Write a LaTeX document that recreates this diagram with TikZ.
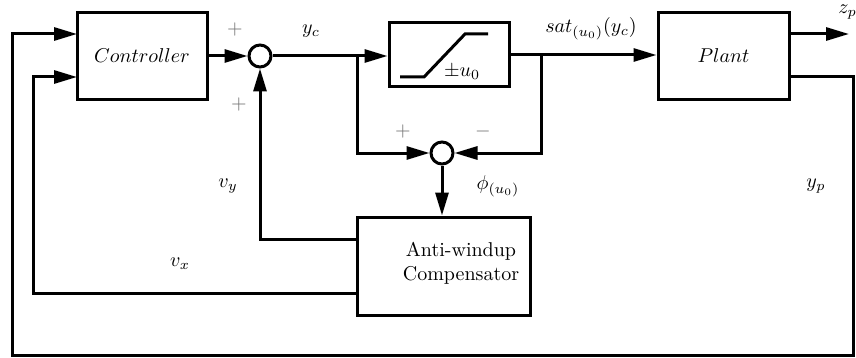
\documentclass[tikz,border=0pt]{standalone}
\usetikzlibrary{arrows.meta}
\begin{document}
\begin{tikzpicture}[x=0.5pt,y=-0.5pt,
  blk/.style={draw,line width=1.5pt,inner sep=0pt},
  sumnode/.style={draw,circle,line width=1.5pt,minimum size=11pt,inner sep=0pt},
  conn/.style={line width=1.5pt},
  arr/.style={conn,-{Triangle[length=11.5pt,width=6.5pt]}},
  sgn/.style={text=black!55,inner sep=0pt},
  lbl/.style={inner sep=0pt}]
\useasboundingbox (0,0) rectangle (856,358);
% blocks
\node[blk,minimum width=65pt,minimum height=43.5pt] (ctrl) at (142,56) {$Controller$};
\node[blk,minimum width=60pt,minimum height=32pt] (sat) at (449,55) {};
\node[blk,minimum width=65.5pt,minimum height=43.5pt] (plant) at (723.5,56) {};
\node[lbl] (plantlbl) at (723.5,56) {$Plant$};
\node[blk,minimum width=86.5pt,minimum height=49pt] (aw) at (443.5,266) {};
\node[lbl,align=center] (awlbl) at (461,263) {Anti-windup\\Compensator};
\node[sumnode] (sum1) at (260,56) {};
\node[sumnode] (sum2) at (442,153) {};
% saturation symbol
\draw[conn] (400,77) -- (424,77) -- (465,34) -- (488,34);
\node[lbl] (pmu) at (462,72) {$\pm u_0$};
% coordinates
\coordinate (b1) at (357,56);
\coordinate (b2) at (541,56);
\coordinate (awy) at (357,239);
\coordinate (awx) at (357,293);
\coordinate (cx) at (33,77);
\coordinate (cin2) at (77,77);
\coordinate (cin1) at (77,34);
\coordinate (pz) at (789,34);
\coordinate (zend) at (849,34);
\coordinate (py) at (789,77);
\coordinate (r1) at (853,77);
\coordinate (r2) at (853,355);
\coordinate (r3) at (12,355);
\coordinate (r4) at (12,34);
% connectors
\draw[arr] (ctrl.east |- sum1) -- (sum1);
\draw[arr] (sum1) -- (sum1 -| sat.west);
\draw[arr] (b1) |- (sum2);
\draw[arr] (sat.east) -- (sat.east -| plant.west);
\draw[arr] (b2) |- (sum2);
\draw[arr] (sum2) -- (sum2 |- aw.north);
\draw[arr] (awy) -| (sum1);
\draw[arr] (awx) -| (cx) -- (cin2);
\draw[arr] (pz) -- (zend);
\draw[arr] (py) -- (r1) -- (r2) -- (r3) -- (r4) -- (cin1);
% labels
\node[sgn] (p1) at (235,30) {$+$};
\node[sgn] (p2) at (239,105) {$+$};
\node[sgn] (p3) at (403,131) {$+$};
\node[sgn] (m1) at (483,131) {$-$};
\node[sgn,text=black] (m0) at (320,56) {$-$};
\node[lbl] (yc) at (311,31) {$y_c$};
\node[lbl] (satl) at (591,29) {$sat_{(u_0)}(y_c)$};
\node[lbl,anchor=west] (zp) at (838,12) {$z_p$};
\node[lbl] (phi) at (498,186) {$\phi_{(u_0)}$};
\node[lbl] (vy) at (228,186) {$v_y$};
\node[lbl] (vx) at (180,264) {$v_x$};
\node[lbl] (yp) at (816,186) {$y_p$};
\end{tikzpicture}
\end{document}
